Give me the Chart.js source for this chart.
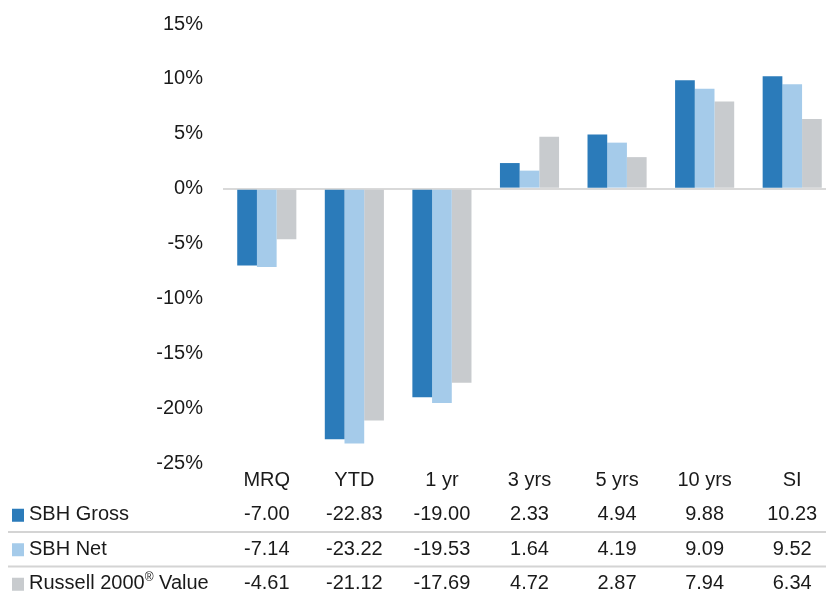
<!DOCTYPE html>
<html>
<head>
<meta charset="utf-8">
<script src="https://cdn.jsdelivr.net/npm/chart.js@4"></script>
<style>
  html, body { margin: 0; padding: 0; background: #fff; overflow: hidden; }
  #wrap { width: 836px; height: 600px; margin-top: -8px; }
</style>
</head>
<body>
<div id="wrap"><canvas id="perf"></canvas></div>
<script>
// Data
const periods = ["MRQ", "YTD", "1 yr", "3 yrs", "5 yrs", "10 yrs", "SI"];
const sbhGross = [-7.00, -22.83, -19.00, 2.33, 4.94, 9.88, 10.23];
const sbhNet = [-7.14, -23.22, -19.53, 1.64, 4.19, 9.09, 9.52];
const russellValue = [-4.61, -21.12, -17.69, 4.72, 2.87, 7.94, 6.34];
const seriesNames = ["SBH Gross", "SBH Net", "Russell 2000® Value"];
const seriesColors = ["#2b7bba", "#a5cbea", "#c8cbce"];
const yTicks = [15, 10, 5, 0, -5, -10, -15, -20, -25];

const FONT = "'Liberation Sans', Arial, sans-serif";
const LINE_H = 34.5;
const TICK_PAD = 0;

// legend rows + separators drawn in the table area
const tableRows = {
  id: "tableRows",
  afterDraw(chart) {
    const ctx = chart.ctx;
    const xs = chart.scales.x;
    const rowY = i => xs.top + TICK_PAD + LINE_H * (i + 0.5);
    ctx.save();
    // separators
    ctx.strokeStyle = "#d4d4d4";
    ctx.lineWidth = 2;
    [1, 2].forEach(i => {
      const y = (rowY(i) + rowY(i + 1)) / 2;
      ctx.beginPath();
      ctx.moveTo(8, y);
      ctx.lineTo(chart.width, y);
      ctx.stroke();
    });
    // legend squares + names
    chart.data.datasets.forEach((ds, i) => {
      const y = rowY(i + 1);
      ctx.fillStyle = ds.backgroundColor;
      ctx.fillRect(12, y - 6, 12, 13);
      ctx.fillStyle = "#1a1a1a";
      ctx.textBaseline = "middle";
      ctx.textAlign = "left";
      const parts = ds.label.split("®");
      let x = 29;
      ctx.font = "20px " + FONT;
      ctx.fillText(parts[0], x, y);
      if (parts.length > 1) {
        x += ctx.measureText(parts[0]).width;
        ctx.font = "12px " + FONT;
        ctx.fillText("®", x, y - 6);
        x += ctx.measureText("®").width;
        ctx.font = "20px " + FONT;
        ctx.fillText(parts[1], x, y);
      }
    });
    ctx.restore();
  }
};

const ctx = document.getElementById("perf").getContext("2d");
const chart = new Chart(ctx, {
  type: "bar",
  data: {
    labels: periods,
    datasets: [
      { label: seriesNames[0], data: sbhGross, backgroundColor: seriesColors[0] },
      { label: seriesNames[1], data: sbhNet, backgroundColor: seriesColors[1] },
      { label: seriesNames[2], data: russellValue, backgroundColor: seriesColors[2] }
    ]
  },
  options: {
    responsive: true,
    maintainAspectRatio: false,
    animation: false,
    layout: { padding: { top: 3, left: 0, right: 0, bottom: 0 } },
    datasets: {
      bar: { categoryPercentage: 0.675, barPercentage: 1.0, borderWidth: 0 }
    },
    plugins: {
      legend: { display: false },
      tooltip: { enabled: false }
    },
    scales: {
      x: {
        grid: { display: false, drawTicks: false },
        border: { display: false },
        ticks: {
          color: "#1a1a1a",
          padding: TICK_PAD,
          maxRotation: 0,
          autoSkip: false,
          font: { family: FONT, size: 20, lineHeight: LINE_H / 20 },
          callback: function (value, i) {
            return [
              this.getLabelForValue(value),
              sbhGross[i].toFixed(2),
              sbhNet[i].toFixed(2),
              russellValue[i].toFixed(2)
            ];
          }
        },
        afterFit: s => { s.height = 129; }
      },
      y: {
        min: -25,
        max: 15,
        afterBuildTicks: s => { s.ticks = yTicks.map(v => ({ value: v })); },
        grid: {
          drawTicks: false,
          color: c => (c.tick && c.tick.value === 0 ? "#d9d9d9" : "rgba(0,0,0,0)"),
          lineWidth: 2
        },
        border: { display: false },
        ticks: {
          color: "#1a1a1a",
          padding: 20,
          font: { family: FONT, size: 20 },
          callback: v => v + "%"
        },
        afterFit: s => { s.width = 223; }
      }
    }
  },
  plugins: [tableRows]
});
</script>
</body>
</html>
